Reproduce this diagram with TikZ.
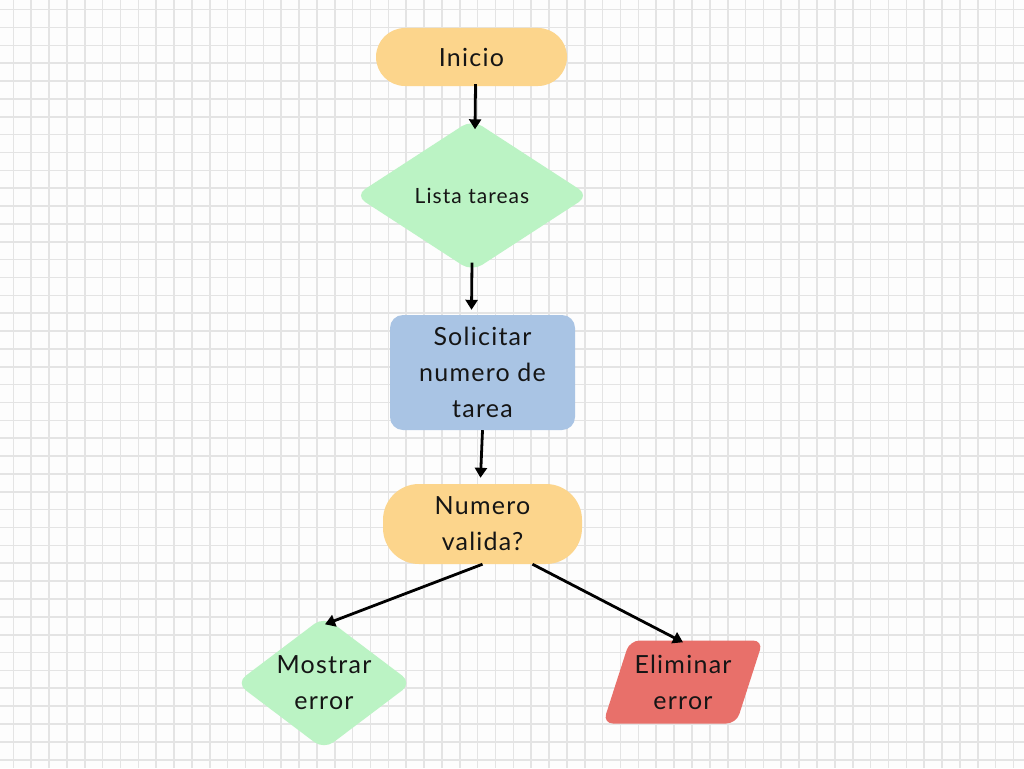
\documentclass[tikz,border=0pt]{standalone}
\usepackage{fontspec}
\setmainfont{Lato}[LetterSpace=5.0]
\usetikzlibrary{shapes.geometric,arrows.meta,calc}
\definecolor{bgc}{HTML}{FDFDFD}
\definecolor{gridc}{HTML}{E4E4E4}
\definecolor{yel}{HTML}{FCD58C}
\definecolor{grn}{HTML}{BBF3C4}
\definecolor{blu}{HTML}{A9C4E4}
\definecolor{redc}{HTML}{E8706A}
\definecolor{txtc}{HTML}{151515}
\begin{document}
\begin{tikzpicture}[x=1pt,y=-1pt,
  txt/.style={font=\fontsize{25}{36}\selectfont, text=txtc, align=center, inner sep=0pt},
  stadium/.style={txt, rectangle, fill=yel},
  decision/.style={txt, diamond, fill=grn, rounded corners=12pt},
  procbox/.style={txt, rectangle, fill=blu, rounded corners=13pt},
  iobox/.style={txt, trapezium, trapezium left angle=66, trapezium right angle=114, trapezium stretches=true, fill=redc, rounded corners=10pt},
  arr/.style={-{Triangle[length=10pt,width=12pt]}, line width=2.8pt, black}]
\useasboundingbox (0,0) rectangle (1024,768);
\fill[bgc] (0,0) rectangle (1024,768);
\foreach \i in {0,...,57} {\draw[gridc, line width=1.6pt] (13.3+\i*17.86,0) -- (13.3+\i*17.86,768);}
\foreach \j in {0,...,43} {\draw[gridc, line width=1.6pt] (0,9.6+\j*17.86) -- (1024,9.6+\j*17.86);}

\node[stadium, minimum width=191pt, minimum height=58pt, rounded corners=29pt] (ini) at (471.5,57) {Inicio};
\node[decision, aspect=1.54, minimum width=234pt, minimum height=152pt, font=\fontsize{21}{30}\selectfont] (lista) at (472,195.5) {Lista tareas};
\node[procbox, minimum width=185pt, minimum height=115pt] (sol) at (482.5,372.5) {Solicitar\\numero de\\tarea};
\node[stadium, minimum width=199pt, minimum height=80pt, rounded corners=36pt] (nv) at (482.5,524) {Numero\\valida?};
\node[decision, aspect=1.34, inner sep=-6pt, minimum width=176pt, minimum height=133pt] (mos) at (324,683) {Mostrar\\error};
\node[iobox, minimum width=160pt, minimum height=83pt] (elim) at (683,682) {Eliminar\\error};

\draw[arr] ($(ini.south)+(4,-2)$) -- ($(lista.north)+(3,10)$);
\draw[arr] ($(lista.south)+(0,-9)$) -- ($(sol.north)+(-11,-5)$);
\draw[arr] (sol.south) -- ($(nv.north)+(-2,-6)$);
\draw[arr] (nv.south) -- ($(mos.north)+(1,8)$);
\draw[arr] ($(nv.south)+(50,0)$) -- ($(elim.north)+(0,2)$);
\end{tikzpicture}
\end{document}
